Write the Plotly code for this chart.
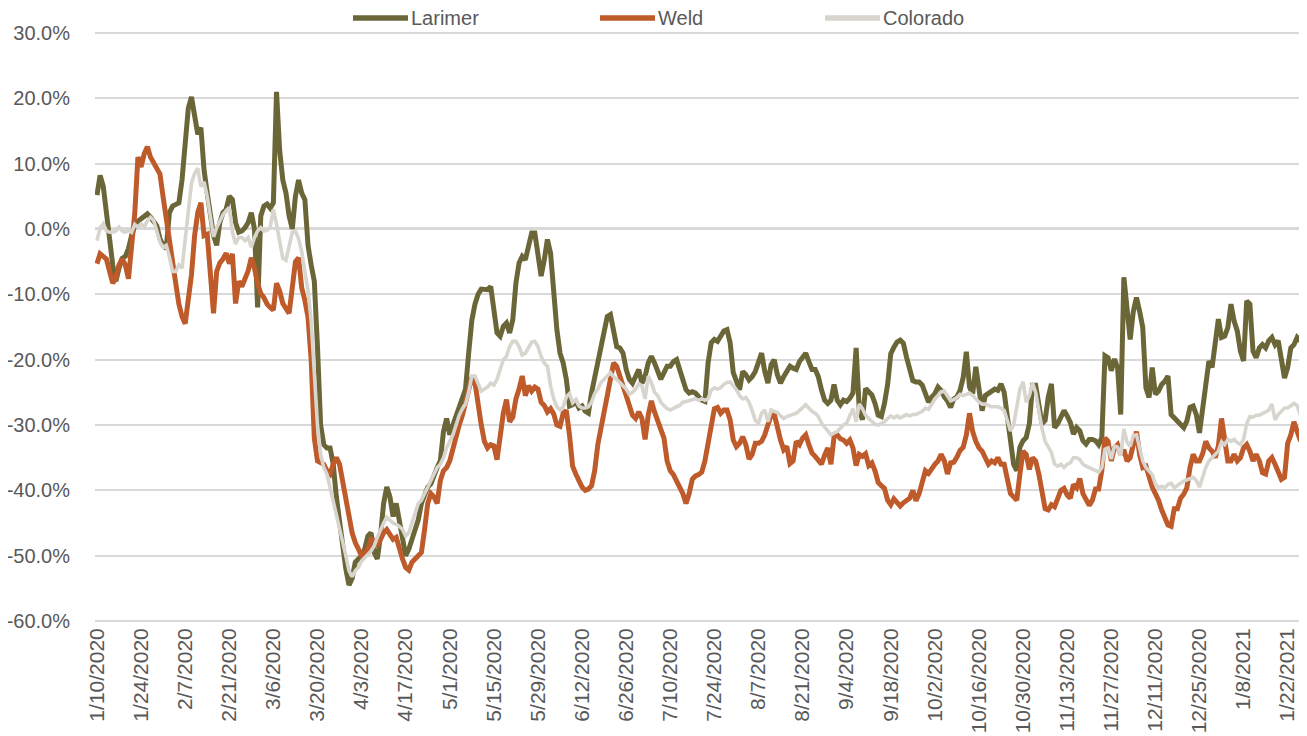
import pandas as pd
import plotly.graph_objects as go

# ---------------- data (daily, starting 1/10/2020), values in percent ----------------
start_date = "2020-01-10"

larimer = [
    5.2, 8.2, 6.5, 3.0, -1.5, -5.5, -8.0, -6.0, -4.5, -4.2,
    -3.0, -1.0, 0.5, 1.2, 1.5, 2.0, 2.3, 1.8, 1.0, 0.5,
    -1.5, -2.5, -3.0, 2.5, 3.5, 3.7, 4.0, 7.5, 12.5, 18.5,
    20.2, 17.0, 14.5, 15.5, 9.0, 5.5, 2.5, -1.0, -2.5, 1.0,
    2.5, 3.0, 5.0, 4.5, 1.0, -0.5, -0.3, 0.2, 1.0, 2.5,
    0.0, -12.0, 2.0, 3.5, 3.8, 3.2, 4.0, 21.0, 12.0, 7.5,
    5.5, 2.0, 0.0, 5.0, 7.5, 5.5, 4.5,
    -2.5, -5.5, -8.0,
    -18, -30, -33, -33.5, -33.5, -36, -41, -45, -48.5, -52,
    -54.5, -53.5, -51, -50.5, -50, -49, -47, -46.5, -49.5, -50.5,
    -47, -42, -39.5, -41, -44, -42, -45, -47.5, -50, -49,
    -47.5, -46, -44.5, -42, -40.5, -39.5, -39, -37.5, -36.5, -35.5,
    -31, -29, -31.5, -30, -28.5, -27.5, -26, -24.5, -19, -14,
    -11.5, -10, -9.2, -9.3,
    -9.3, -8.8, -12.9, -15.9, -16.4, -14.9,
    -14.4, -15.9, -13.9, -8.3, -5.2, -4.2, -4.7, -2.7, -0.6, -0.6,
    -4.2, -7.2, -4.7, -1.6, -3.7, -10.3, -15.4, -19, -20.5, -23,
    -27.1, -26.9, -26.4, -27.4, -27.1, -27.9, -28.2, -25.1, -22.6, -20.5,
    -17.4, -14.9, -13.4, -13.1, -15.4, -18, -18.2, -19, -21.5, -23,
    -23.6, -22.6, -21.5, -23.6, -22.6, -20.5, -19.5, -20.5, -22, -23,
    -22, -21, -21, -20.3, -20, -21.5, -23.6, -24.6, -25.1,
    -24.9, -25.1, -25.6, -26.2, -26.4, -20.5, -17.4, -16.9, -17.2, -16.4, -15.6,
    -15.4, -17.4, -22, -23.3, -24.6, -21.8, -22.3, -23.1, -22.6, -21.8,
    -20.5, -19, -21.8, -23.6, -20.8, -20, -22.3, -23.6, -22.6, -21.8,
    -21, -21.3, -21.5, -20.3, -19.5, -19, -20.3, -21.5, -21.5, -22.6,
    -24.6, -26.2, -26.7, -26.2, -23.8, -26.2, -26.9, -26.2, -26.4, -25.9,
    -25.1, -18.2, -27.7, -29.2, -24.4, -24.9, -25.4, -26.7, -28.5, -28.7,
    -26.7, -23.8,
    -19.1, -18.1, -17.3, -17, -17.5, -19.6, -21.1, -23.2,
    -23.4, -23.4, -23.9, -25, -26.5, -25.7, -25.2, -24.2, -24.7, -25.7,
    -26.3, -27.3, -26, -25.7, -24.7, -22.7, -18.8, -24.2, -25.2, -21.1,
    -25, -27.8, -25.5, -25.2, -24.7, -24.5, -24.7, -23.7, -25, -28.8,
    -32.4, -36, -37, -33.4, -32.4, -31.9, -29.8, -23.9, -23.9, -27.3,
    -29.8, -29.3, -25.7, -23.7, -30.4, -29.8, -28.8, -27.8, -28.6, -29.6,
    -31.4, -30.4, -30.9, -32.4, -32.9, -32.2,
    -32.2, -32.4, -33, -31.9,
    -19.4, -19.7, -21.7, -19.9, -21.2, -28.4, -7.4, -12.6, -16.9, -12.6,
    -10.5, -12.6, -15.1, -24.3, -25.8, -21.2, -25.3, -24.8, -23.8, -23.3,
    -22.5, -28.4, -28.9, -29.4, -29.9, -30.4, -29.4, -27.3, -27.1, -28.4,
    -31.2, -27.9, -23.8, -20.2, -21.2, -16.6, -13.8, -16.6, -16.4, -15.1,
    -11.5, -14.1, -15.6, -18.7, -20.2, -11, -11.5, -18.7, -19.7, -18.2,
    -17.7, -18.2, -17.1, -16.6, -17.7, -17.1, -19.7, -22.8, -21.2, -18.2,
    -17.7, -16.6, -17.1, -17.4,
]

weld = [
    -5.3, -3.8, -4.2, -4.6, -6.5, -8.3, -7.5, -5.5, -4.6, -5.5,
    -7.6, -1.7, 2.4, 11.0, 9.5, 11.5, 12.6, 11.0, 10.0, 9.2,
    8.4, 4.9, 1.9, -1.5, -4.8, -8.3, -11.5, -13.4, -14.5, -10.5,
    -7.0, -1.0, 2.5, 4.0, -1.0, -0.8, -6.0, -12.9, -6.5, -5.2,
    -4.6, -3.7, -5.3, -3.8, -11.4, -8.0, -8.8, -7.5, -6.4, -4.4,
    -6.0, -8.3, -9.9, -10.5, -11.5, -12.0, -12.4, -8.3, -9.5, -11.4,
    -12.0, -12.9, -9.0, -5.0, -4.4, -9.0, -10.9, -13.5, -20, -32,
    -35.5, -35.8, -36, -37, -37.5, -36, -35, -36, -38.5, -41,
    -44.5, -46.5, -48, -49.2, -50, -49.5, -49, -47.5, -47.7, -48.5,
    -47.5, -46.5, -46, -46.7, -47.5, -47.2, -49, -50.5, -51.8, -52.2,
    -51, -50.5, -50, -49.5, -46, -42, -40.5, -41, -42, -38.5,
    -37, -36.5, -35.5, -33.5, -32.3, -30, -28.5, -26.5, -24.7, -22.7,
    -23.5, -27.5, -30, -32.5,
    -33.5, -33, -33.2, -35.3, -31.5, -28.2,
    -26.1, -29.5, -28.8, -26, -24.5, -22.5, -25.5, -24, -24.8, -24.2,
    -24.5, -26.5, -27, -28, -27.5, -28.3, -30, -30.2, -28.2, -27.8,
    -31.5, -36.3, -37.5, -38.5, -39.5, -40, -39.8, -39.3, -37, -33,
    -30.5, -27.5, -24.5, -22, -20.5, -21, -22.5, -24.5, -25.5, -27,
    -28.5, -29, -28, -29, -32.2, -28.5, -26.3, -28, -29.5, -30.5,
    -32, -35.5, -37, -37.6, -38.5, -39.3, -40.5, -42, -40.5,
    -38.3, -37.8, -37.6, -37.2, -35.5, -32.5, -30, -27.5, -27.3, -28.2, -27.7,
    -27.7, -29.2, -32.3, -33.3, -32.8, -31.8, -33, -35.2, -34.5, -32.8,
    -32.8, -32.5, -31.5, -30, -28.5, -28.3, -30.5, -32.3, -33.8, -33.3,
    -35.9, -35.5, -32.5, -33, -32, -31.5, -33, -34.3, -34.8, -35.5,
    -36, -34.6, -33.5, -36, -31.8, -31.5, -32.1, -32.3, -32.8, -32.3,
    -33.5, -36.2, -34.5, -34.8, -34.4, -36.2, -35.8, -37, -38.8, -39.3,
    -39.7, -41.5,
    -42.2, -41.3, -41.8, -42.4, -41.9, -41.6, -41.2, -40,
    -41.6, -40.5, -38.7, -37, -37.4, -36.5, -36, -35.5, -34.5, -35.5,
    -37.5, -35.8, -35.7, -34.9, -33.9, -33.4, -31.5, -28.2, -31, -32.5,
    -33.5, -34, -35, -36, -35.5, -35.8, -35, -36, -36, -38,
    -40.5, -41, -41.5, -37.5, -34, -34.5, -36.8, -35, -35.5, -37.5,
    -40.5, -42.8, -43, -42.2, -42.5, -41, -40, -39.7, -40.7, -41.2,
    -39.1, -39.6, -38.2, -40.5, -41.5, -42.3,
    -41.5, -39.8, -39.8, -37,
    -32, -32.5, -35.5, -33.5, -33, -34.5, -33.8, -35.5, -35, -32.5,
    -31, -34.5, -36.5, -36.3, -38, -39.5, -40.5, -41.5, -43, -44,
    -45.3, -45.5, -42.8, -42.8, -41.2, -40.6, -39.6, -36.5, -34.5, -35.5,
    -35.5, -34.4, -32.5, -33.5, -34, -35, -33.2, -29, -33, -35.5,
    -35.5, -34.5, -35.5, -35, -33.5, -33, -34, -35.5, -34.5, -35.5,
    -37.3, -37.5, -35.5, -35, -36, -37.3, -38.3, -38, -32.8, -31.5,
    -29.5, -31, -32.3, -32.5,
]

colorado = [
    -1.8, 0.2, 0.8, -0.3, -0.5, -0.5, -0.3, 0.3, -0.3, -0.5,
    -0.2, -0.5, 0.7, 0.3, 0.8, 0.3, 1.3, 1.8, 1.3, -0.5,
    -2.0, -2.8, -2.5, -4.3, -6.5, -6.5, -5.5, -6.0, -2.0, 3.0,
    7.0, 8.5, 9.3, 6.5, 7.2, 5.0, 1.5, -1.2, 0.2, 1.3,
    2.2, 2.8, 3.3, -0.5, -2.3, -1.3, -1.3, -1.8, -1.3, -2.8,
    -1.3, -0.3, 0.2, -0.3, -0.2, 0.3, 3.0, 0.7, -2.3, -4.5,
    -4.8, -2.5, -0.5, -0.3, -1.5, -3.5, -6.4, -9.5, -14, -21,
    -30, -34.5, -36.5, -37.5, -39.5, -41.6, -44, -45.5, -47.5, -50,
    -52.3, -53.2, -52.3, -51.8, -50.8, -50.2, -49.8, -49.3, -48.5, -47.2,
    -46, -45, -44.1, -44.6, -45, -45.2, -45.5, -46, -47, -46.5,
    -45, -43.5, -42, -41.5, -40.5, -39.5, -38.5, -37.5, -36.5, -36,
    -35, -33.5, -32.5, -31.5, -30, -28.5, -27.5, -26.8, -25, -22.5,
    -22.5, -23.5, -24.8, -24.5,
    -24.2, -23.6, -23.9, -23, -21.5, -20,
    -19.5, -18, -17.2, -17.2, -18, -19.3, -19, -18, -17.3, -17.2,
    -18, -19.5, -20.5, -21, -24, -26, -27.2, -27.7, -27.2, -25.7,
    -25.2, -26.6, -26.1, -27.1, -27.4, -27.4, -27.2, -26.5, -25.2, -24.5,
    -23.5, -23, -22.5, -22, -22.6, -23, -23.5, -24, -24.5, -25.3,
    -25, -24.5, -23.7, -24, -26, -22.5, -23.5, -25, -25.5, -26.5,
    -27, -27.5, -27.7, -27.4, -27.2, -27, -26.5, -26.4, -26.3,
    -26.2, -26, -26.2, -26, -26.2, -26, -24.7, -24.3, -24.5, -24.3, -23.8,
    -23.5, -23.4, -24, -24.6, -25.5, -26, -25.8, -26.5, -27.8, -29.3,
    -29.7, -28.2, -27.7, -29.5, -27.7, -27.9, -28.1, -28.6, -29, -28.7,
    -28.5, -28.3, -28.2, -27.8, -27.3, -26.9, -27.4, -27.9, -28.2, -28.7,
    -29.7, -30.3, -31, -31.5, -31.2, -31, -30.5, -30, -29.7, -28.5,
    -27.5, -29.5, -26.8, -27.5, -28.5, -29, -29.5, -29.9, -30, -29.7,
    -29.5, -29,
    -28.6, -28.9, -28.6, -28.9, -28.6, -28.4, -28.6, -28.4,
    -28.4, -28.2, -27.9, -27.4, -27.6, -26.8, -26, -25.5, -24.9, -24.8,
    -25.5, -26.3, -26.1, -25.8, -25.3, -25.5, -25.3, -25.1, -25.5, -26,
    -26.5, -26.8, -26.8, -27, -27.2, -27.2, -27.2, -27.4, -27.8, -29.3,
    -30.9, -30, -27.3, -24.5, -23.4, -26.5, -25.5, -23.6, -25, -28,
    -30.5, -32.5, -33.5, -34.2, -36, -36.3, -36, -36.5, -36, -35.8,
    -35, -35, -35.3, -36, -36.3, -36.5,
    -36.8, -36.9, -37.2, -36.5,
    -33.7, -33.5, -35.2, -33.2, -33.4, -34.7, -30.6, -32.6, -33.3, -31.6,
    -31.5, -33.5, -35.5, -36.5, -37, -37.6, -39, -39.6, -39.4, -39.6,
    -39.1, -38.9, -39.6, -39.2, -38.9, -38.6, -38.4, -38.1, -38, -38.5,
    -39.5, -38, -36.5, -35.5, -35, -34.5, -34, -32.6, -33, -32.2,
    -32.5, -32.2, -32.7, -33, -32.2, -29.8, -28.7, -28.8, -28.5, -28.5,
    -28.3, -28, -27.7, -26.8, -29.2, -28.4, -27.9, -27.4, -27.4, -27,
    -26.7, -27, -28.5, -29.8,
]

series_names = ["Larimer", "Weld", "Colorado"]

x_tick_labels = [
    "1/10/2020", "1/24/2020", "2/7/2020", "2/21/2020", "3/6/2020", "3/20/2020",
    "4/3/2020", "4/17/2020", "5/1/2020", "5/15/2020", "5/29/2020", "6/12/2020",
    "6/26/2020", "7/10/2020", "7/24/2020", "8/7/2020", "8/21/2020", "9/4/2020",
    "9/18/2020", "10/2/2020", "10/16/2020", "10/30/2020", "11/13/2020",
    "11/27/2020", "12/11/2020", "12/25/2020", "1/8/2021", "1/22/2021",
]

y_tick_values = [30, 20, 10, 0, -10, -20, -30, -40, -50, -60]
y_tick_labels = ["30.0%", "20.0%", "10.0%", "0.0%", "-10.0%", "-20.0%",
                 "-30.0%", "-40.0%", "-50.0%", "-60.0%"]

# ---------------- figure ----------------
n = len(larimer)
assert len(weld) == n and len(colorado) == n, (len(larimer), len(weld), len(colorado))
dates = pd.date_range(start_date, periods=n, freq="D")
tick_dates = pd.to_datetime(x_tick_labels, format="%m/%d/%Y")

colors = {"Larimer": "#6B6637", "Weld": "#BF5A2A", "Colorado": "#D8D5CE"}
widths = {"Larimer": 5, "Weld": 5, "Colorado": 3.6}
values = {"Larimer": larimer, "Weld": weld, "Colorado": colorado}

FONT = "Liberation Sans, Arial, sans-serif"
TXT = "#595959"

fig = go.Figure()
for name in series_names:
    fig.add_trace(go.Scatter(
        x=dates, y=values[name], mode="lines", name=name,
        line=dict(color=colors[name], width=widths[name]),
        showlegend=False,
    ))

# the page body has an 8px default margin, so the figure is sized to fill the rest
OFF = 8
W, H = 1307 - OFF, 736 - OFF
ML, MR, MT, MB = 95 - OFF, 2, 31 - OFF, 113
pw, ph = W - ML - MR, H - MT - MB

fig.update_layout(
    width=W, height=H,
    margin=dict(l=ML, r=MR, t=MT, b=MB, pad=0, autoexpand=False),
    paper_bgcolor="white", plot_bgcolor="white",
    font=dict(family=FONT, color=TXT, size=20),
    showlegend=False,
)

x0 = dates[0] - pd.Timedelta(hours=15)
x1 = dates[-1] + pd.Timedelta(hours=12)
fig.update_xaxes(
    type="date", range=[x0, x1], automargin=False,
    tickvals=tick_dates, ticktext=x_tick_labels, tickangle=-90,
    tickfont=dict(size=21, color=TXT, family=FONT),
    showgrid=False, zeroline=False, showline=False, ticks="",
    ticklabelstandoff=0,
)
fig.update_yaxes(
    range=[-60.3, 30.3], automargin=False,
    tickvals=y_tick_values, ticktext=y_tick_labels,
    tickfont=dict(size=20, color=TXT, family=FONT),
    showgrid=True, gridcolor="#D9D9D9", gridwidth=1.6,
    zeroline=True, zerolinecolor="#D9D9D9", zerolinewidth=3,
    showline=False, ticks="", ticklabelstandoff=24,
)

# custom legend (line sample + label), positioned in page pixels
def px_x(px):
    return (px - OFF - ML) / pw

def px_y(py):
    return (H - MB - (py - OFF)) / ph

legend_items = [("Larimer", 353, 408), ("Weld", 600, 655), ("Colorado", 825, 880)]
ly = 18
for name, xa, xb in legend_items:
    fig.add_shape(type="line", xref="paper", yref="paper",
                  x0=px_x(xa), x1=px_x(xb), y0=px_y(ly), y1=px_y(ly),
                  line=dict(color=colors[name], width=5.5))
    fig.add_annotation(xref="paper", yref="paper", x=px_x(xb + 1), y=px_y(ly),
                       text=name, showarrow=False, xanchor="left", yanchor="middle",
                       font=dict(size=20, color=TXT, family=FONT))

fig.write_html("out.html")
